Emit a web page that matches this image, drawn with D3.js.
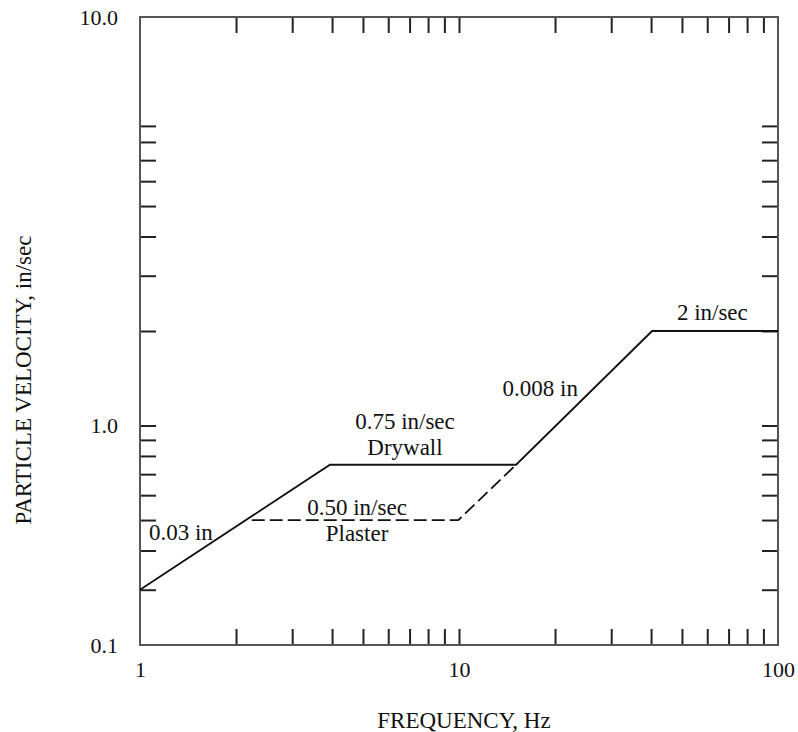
<!DOCTYPE html>
<html lang="en">
<head>
  <meta charset="UTF-8" />
  <title>Particle Velocity vs Frequency</title>
  <script src="https://d3js.org/d3.v7.min.js"></script>
  <style>
body { margin: 0; background: white; }
svg { display: block; background: white; }
text { font-family: 'Liberation Serif', 'Times New Roman', serif; fill: #111; }
.frame { fill: none; stroke: #555; stroke-width: 2; }
.ticks line { stroke: #222; stroke-width: 2; }
.ticks path, .labels path { display: none; }
.labels text { font-size: 22px; font-family: 'Liberation Serif', serif; }
.curve { fill: none; stroke: #111; stroke-width: 1.8; }
.note { font-size: 23px; }
.title { font-size: 23px; }
  </style>
</head>
<body>
<div id="chart"></div>
<script>
    // --- Criteria curve (frequency in Hz, particle velocity in in/sec) ---
    const solidFreq = [1, 3.94, 15.1, 40.3, 100];
    const solidVel  = [0.3, 0.75, 0.75, 2, 2];

    // --- Plaster branch, drawn dashed ---
    const dashFreq = [2.24, 9.95, 15.1];
    const dashVel  = [0.5, 0.5, 0.75];

    // --- Tick marks and labels ---
    const xMinorTicks = [2, 3, 4, 5, 6, 7, 8, 9, 10, 20, 30, 40, 50, 60, 70, 80, 90];
    const xLabelAt = [1, 10, 100];
    const yMinorTicks = [0.3, 0.4, 0.5, 0.6, 0.7, 0.8, 0.9, 1, 2, 3, 4, 5, 6, 7, 8, 9];
    // the frame ends carry the "0.1" and "10.0" labels in the original figure
    const yLabelAt = [0.2, 1, 20];
    const yTickLabels = ["0.1", "1.0", "10.0"];

    // --- Annotations (text, anchor frequency, anchor velocity, alignment) ---
    const notes = [
      { text: "0.75 in/sec", f: 6.77, v: 0.975, anchor: "middle" },
      { text: "Drywall",     f: 6.77, v: 0.806, anchor: "middle" },
      { text: "0.50 in/sec", f: 4.79, v: 0.519, anchor: "middle" },
      { text: "Plaster",     f: 4.79, v: 0.429, anchor: "middle" },
      { text: "0.03 in",     f: 1.067, v: 0.432, anchor: "start" },
      { text: "0.008 in",    f: 13.7, v: 1.24, anchor: "start" },
      { text: "2 in/sec",    f: 48.2, v: 2.17, anchor: "start" }
    ];

    // --- Layout ---
    const W = 798, H = 732;
    const plot = { left: 140, right: 778, top: 17, bottom: 645 };

    const svg = d3.select("#chart").append("svg")
                  .attr("width", W)
                  .attr("height", H);

    // --- Log scales ---
    const x = d3.scaleLog().domain([1, 100]).range([plot.left, plot.right]);
    const y = d3.scaleLog().domain([0.2, 20]).range([plot.bottom, plot.top]);

    // --- Inside tick marks on all four sides ---
    const tick = 16;
    svg.append("g").attr("class", "ticks")
       .attr("transform", `translate(0,${plot.bottom})`)
       .call(d3.axisBottom(x).tickValues(xMinorTicks).tickSize(-tick).tickFormat(""));
    svg.append("g").attr("class", "ticks")
       .attr("transform", `translate(0,${plot.top})`)
       .call(d3.axisTop(x).tickValues(xMinorTicks).tickSize(-tick).tickFormat(""));
    svg.append("g").attr("class", "ticks")
       .attr("transform", `translate(${plot.left},0)`)
       .call(d3.axisLeft(y).tickValues(yMinorTicks).tickSize(-tick).tickFormat(""));
    svg.append("g").attr("class", "ticks")
       .attr("transform", `translate(${plot.right},0)`)
       .call(d3.axisRight(y).tickValues(yMinorTicks).tickSize(-tick).tickFormat(""));

    // --- Tick labels ---
    svg.append("g").attr("class", "labels")
       .attr("transform", `translate(0,${plot.bottom})`)
       .call(d3.axisBottom(x).tickValues(xLabelAt).tickSize(0).tickPadding(16).tickFormat(d3.format("d")));
    svg.append("g").attr("class", "labels")
       .attr("transform", `translate(${plot.left},0)`)
       .call(d3.axisLeft(y).tickValues(yLabelAt).tickSize(0).tickPadding(22)
               .tickFormat((d, i) => yTickLabels[i]));

    // --- Plot frame ---
    svg.append("rect").attr("class", "frame")
       .attr("x", plot.left).attr("y", plot.top)
       .attr("width", plot.right - plot.left).attr("height", plot.bottom - plot.top);

    // --- Curves ---
    const line = d3.line().x(d => x(d[0])).y(d => y(d[1]));

    svg.append("path").attr("class", "curve")
       .attr("d", line(d3.zip(solidFreq, solidVel)));

    svg.append("path").attr("class", "curve")
       .attr("stroke-dasharray", "13,5")
       .attr("d", line(d3.zip(dashFreq, dashVel)));

    // --- Annotations ---
    svg.selectAll(".note").data(notes).enter()
       .append("text").attr("class", "note")
       .attr("x", d => x(d.f))
       .attr("y", d => y(d.v))
       .attr("text-anchor", d => d.anchor)
       .text(d => d.text);

    // --- Axis titles ---
    svg.append("text").attr("class", "title")
       .attr("x", 464).attr("y", 728)
       .attr("text-anchor", "middle")
       .text("FREQUENCY, Hz");

    svg.append("text").attr("class", "title")
       .attr("transform", "translate(31,380) rotate(-90)")
       .attr("text-anchor", "middle")
       .text("PARTICLE VELOCITY, in/sec");
</script>
</body>
</html>
